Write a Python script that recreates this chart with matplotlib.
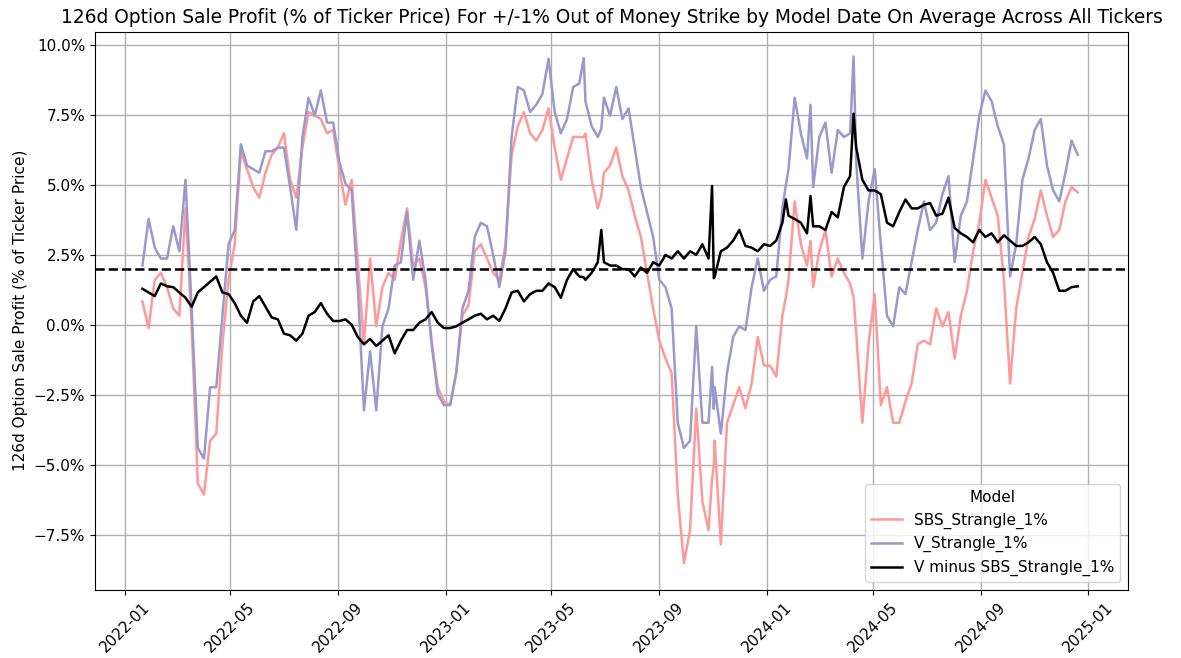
import matplotlib
matplotlib.use("Agg")
import matplotlib.pyplot as plt
import matplotlib.dates as mdates
import matplotlib.ticker as mticker
import pandas as pd

# Weekly model dates (Fridays)
week_dates = pd.date_range("2022-01-21", "2024-12-20", freq="W-FRI")

# Average option sale profit, % of ticker price, per weekly model date
sbs_strangle = [
    0.84, -0.11, 1.61, 1.86, 1.35, 0.59, 0.33, 4.16, -0.05, -5.66,
    -6.05, -4.13, -3.88, -0.69, 1.61, 2.88, 6.20, 5.56, 4.92, 4.54,
    5.43, 6.07, 6.33, 6.84, 5.18, 4.54, 6.33, 7.60, 7.47, 7.35,
    6.84, 6.96, 5.56, 4.29, 5.18, 2.24, -0.69, 2.37, -0.05, 1.35,
    1.86, 1.61, 3.01, 4.16, 2.12, 2.37, 1.35, -0.56, -2.22, -2.73,
    -2.86, -1.71, 0.33, 0.71, 2.63, 2.88, 2.37, 1.86, 1.61, 2.88,
    6.07, 7.09, 7.60, 6.84, 6.58, 6.96, 7.73, 6.33, 5.18, 5.94,
    6.71, 6.71, 6.84, 5.18, 4.16, 5.43, 5.69, 6.33, 5.31, 4.80,
    3.90, 3.14, 1.86, 0.59, -0.56, -1.20, -1.71, -6.05, -8.50, -7.32,
    -2.98, -6.30, -7.32, -4.13, -7.83, -3.49, -2.86, -2.22, -2.98, -2.09,
    -0.43, -1.45, -1.45, -1.84, 0.33, 1.61, 4.41, 2.88, 2.12, 1.35,
    2.63, 3.39, 1.73, 2.37, 1.86, 1.48, -0.31, -3.49, -0.69, 1.10,
    -2.86, -2.22, -3.49, -3.49, -2.73, -2.09, -0.69, -0.56, -0.69, 0.59,
    -0.05, 0.46, -1.20, 0.33, 1.22, 2.63, 3.65, 5.18, 4.54, 3.90,
    1.61, -2.09, 0.59, 1.86, 3.14, 3.78, 4.80, 3.90, 3.14, 3.39,
    4.41, 4.92, 4.73,
]

v_strangle = [
    2.12, 3.78, 2.76, 2.37, 2.37, 3.52, 2.63, 5.18, 0.59, -4.39,
    -4.77, -2.22, -2.22, 0.33, 2.88, 3.39, 6.45, 5.69, 5.56, 5.43,
    6.20, 6.20, 6.33, 6.33, 4.92, 3.39, 6.71, 8.11, 7.47, 8.37,
    7.22, 7.22, 5.82, 5.05, 4.80, 1.35, -3.05, -0.94, -3.05, -0.05,
    0.59, 2.12, 2.24, 4.03, 1.61, 3.01, 1.61, -0.69, -2.47, -2.86,
    -2.86, -1.71, 0.59, 1.22, 3.14, 3.65, 3.52, 2.50, 1.35, 2.63,
    6.71, 8.49, 8.37, 7.60, 7.86, 8.24, 9.50, 7.60, 6.84, 7.35,
    8.49, 8.62, 7.98, 7.09, 6.71, 8.11, 7.47, 8.49, 7.35, 7.73,
    6.33, 4.92, 4.03, 3.14, 1.61, 1.35, 0.59, -3.49, -4.39, -4.13,
    -0.05, -3.49, -3.49, -2.22, -3.88, -1.71, -0.43, -0.05, -0.18, 1.35,
    2.37, 1.22, 1.61, 1.73, 4.16, 5.56, 8.11, 6.84, 5.94, 4.92,
    6.71, 7.22, 5.43, 6.96, 6.71, 6.84, 5.82, 2.37, 4.41, 5.56,
    2.88, 0.33, -0.05, 1.35, 1.10, 2.24, 3.39, 4.41, 3.39, 3.65,
    4.67, 5.31, 2.24, 3.90, 4.41, 5.94, 7.47, 8.37, 7.98, 7.09,
    6.45, 1.73, 2.88, 5.18, 5.94, 6.96, 7.35, 5.69, 4.80, 4.41,
    5.43, 6.58, 6.07,
]

v_minus_sbs = [
    1.29, 1.16, 1.03, 1.48, 1.38, 1.35, 1.16, 0.97, 0.65, 1.16,
    1.35, 1.54, 1.73, 1.16, 1.10, 0.78, 0.33, 0.08, 0.84, 1.03,
    0.65, 0.27, 0.20, -0.31, -0.37, -0.56, -0.31, 0.33, 0.46, 0.78,
    0.40, 0.14, 0.14, 0.20, 0.01, -0.43, -0.69, -0.50, -0.75, -0.56,
    -0.37, -1.01, -0.56, -0.18, -0.18, 0.08, 0.20, 0.46, 0.08, -0.11,
    -0.11, -0.05, 0.08, 0.20, 0.33, 0.40, 0.20, 0.33, 0.14, 0.59,
    1.16, 1.22, 0.84, 1.10, 1.22, 1.22, 1.48, 1.35, 0.97, 1.61,
    1.99, 1.73, 1.61, 1.86, 2.24, 2.24, 2.12, 2.12, 1.99, 1.99,
    1.73, 2.05, 1.86, 2.24, 2.12, 2.50, 2.37, 2.63, 2.37, 2.63,
    2.50, 2.88, 2.37, 1.73, 2.63, 2.76, 3.01, 3.39, 2.82, 2.76,
    2.63, 2.88, 2.82, 3.01, 3.65, 3.90, 3.78, 3.65, 3.27, 3.52,
    3.52, 3.39, 4.03, 3.84, 4.92, 5.31, 6.33, 5.18, 4.80, 4.80,
    4.67, 3.65, 3.52, 4.03, 4.48, 4.16, 4.16, 4.29, 4.35, 3.90,
    3.97, 4.54, 3.46, 3.27, 3.14, 2.95, 3.39, 3.14, 3.27, 2.95,
    3.20, 3.01, 2.82, 2.82, 2.95, 3.14, 2.88, 2.24, 1.86, 1.22,
    1.22, 1.35, 1.38,
]

# Mid-week model dates where the averages jump sharply
spike_dates = pd.to_datetime(["2023-06-07", "2023-06-27", "2023-10-31",
                              "2023-11-02", "2024-01-23", "2024-02-20",
                              "2024-04-09"])
sbs_spike = [6.70, 4.60, -5.50, -5.00, 1.00, 3.00, 1.00]
v_spike = [9.52, 7.00, -1.50, -3.00, 5.00, 7.86, 9.58]
diff_spike = [1.70, 3.39, 4.96, 1.67, 4.48, 4.60, 7.54]

threshold = 2.0

data = pd.concat([
    pd.DataFrame({"sbs": sbs_strangle, "v": v_strangle, "diff": v_minus_sbs}, index=week_dates),
    pd.DataFrame({"sbs": sbs_spike, "v": v_spike, "diff": diff_spike}, index=spike_dates),
]).sort_index()

fig = plt.figure(figsize=(11.81, 6.58), dpi=100)
ax = fig.add_axes([0.0804, 0.1033, 0.8746, 0.8487])

ax.plot(data.index, data["sbs"], color="#ff9999", lw=1.8, label="SBS_Strangle_1%")
ax.plot(data.index, data["v"], color="#9999cc", lw=1.8, label="V_Strangle_1%")
ax.plot(data.index, data["diff"], color="black", lw=1.8, label="V minus SBS_Strangle_1%")
ax.axhline(threshold, color="black", ls="--", lw=1.8)

ax.set_xlim(pd.Timestamp("2021-11-28"), pd.Timestamp("2025-02-15"))
ax.set_ylim(-9.46, 10.47)

ax.set_title("126d Option Sale Profit (% of Ticker Price) For +/-1% Out of Money Strike "
             "by Model Date On Average Across All Tickers", fontsize=13.4)
ax.set_ylabel("126d Option Sale Profit (% of Ticker Price)", fontsize=11)

ax.yaxis.set_major_locator(mticker.MultipleLocator(2.5))
ax.yaxis.set_major_formatter(mticker.FuncFormatter(lambda v, p: f"{v:.1f}%".replace("-", "\u2212")))
ax.xaxis.set_major_locator(mdates.MonthLocator(bymonth=[1, 5, 9]))
ax.xaxis.set_major_formatter(mdates.DateFormatter("%Y-%m"))
ax.tick_params(axis="both", labelsize=11)
plt.setp(ax.get_xticklabels(), rotation=45, ha="center")

ax.grid(True, color="#b0b0b0", lw=1.0)
leg = ax.legend(title="Model", loc="lower right", fontsize=11, title_fontsize=11)

fig.savefig("out.png", dpi=100)
